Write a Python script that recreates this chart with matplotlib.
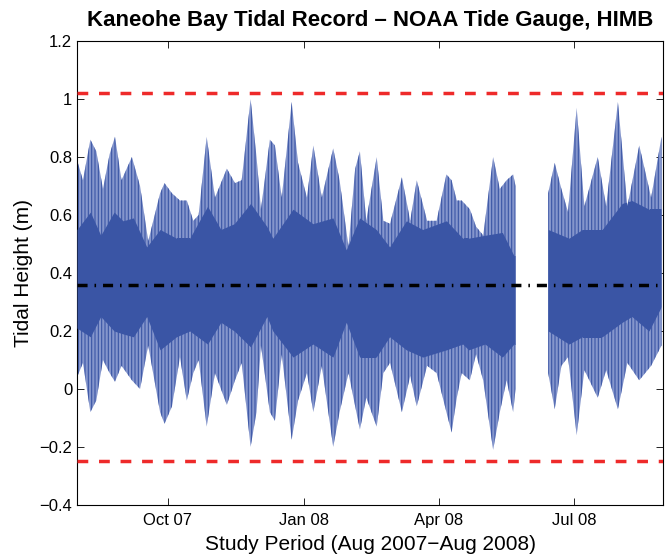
import numpy as np
import pandas as pd
import matplotlib
matplotlib.use('Agg')
import matplotlib.pyplot as plt
import matplotlib.dates as mdates

plt.rcParams['font.family'] = ['Liberation Sans', 'DejaVu Sans']
plt.rcParams['hatch.color'] = '#3a55a5'
plt.rcParams['hatch.linewidth'] = 0.8

# record start, sample offsets (days) and tidal envelope (m)
start = pd.Timestamp('2007-08-01')
day = [0, 4, 9, 13, 17.5, 22, 25.6, 30, 37, 42.5, 48, 56, 59, 64, 69.4, 74, 78.4, 82,
       87.4, 93, 101, 106.5, 111, 117, 121, 124, 130, 133.4, 138, 144.7, 149, 155,
       159.3, 165, 172.7, 177, 183, 187.5, 190.7, 195, 202, 206.5, 211, 219, 224.6,
       229, 236, 242.4, 249, 252.5, 256, 259.3, 264.8, 269, 273.8, 280.5, 285, 289.6,
       294, 295.6,
       317.6, 322, 326.5, 331, 336.8, 342, 351, 356.7, 364.6, 371, 379, 387, 394]
high = [0.79, 0.72, 0.86, 0.82, 0.69, 0.81, 0.87, 0.72, 0.80, 0.70, 0.51, 0.675, 0.71,
        0.675, 0.65, 0.65, 0.58, 0.60, 0.87, 0.66, 0.76, 0.71, 0.72, 1.00, 0.80, 0.62,
        0.86, 0.84, 0.66, 0.99, 0.78, 0.66, 0.84, 0.66, 0.83, 0.72, 0.49, 0.76, 0.82,
        0.58, 0.80, 0.58, 0.57, 0.73, 0.58, 0.72, 0.58, 0.58, 0.74, 0.72, 0.65, 0.65,
        0.62, 0.56, 0.53, 0.80, 0.69, 0.72, 0.74, 0.70,
        0.675, 0.78, 0.69, 0.61, 0.97, 0.63, 0.80, 0.63, 0.99, 0.63, 0.84, 0.66, 0.87]
low = [0.04, 0.09, -0.08, -0.04, 0.10, 0.055, 0.025, 0.08, 0.03, 0.00, 0.15, -0.08, -0.12,
       -0.06, 0.11, -0.04, 0.055, 0.10, -0.13, 0.055, -0.055, 0.03, 0.09, -0.20, -0.08, 0.15,
       -0.08, -0.11, 0.12, -0.175, -0.04, 0.055, -0.08, 0.08, -0.20, -0.08, 0.055, -0.06,
       -0.14, -0.03, -0.13, 0.055, 0.09, -0.08, 0.045, -0.06, 0.08, 0.055, -0.08, -0.15,
       -0.03, 0.055, 0.03, 0.12, 0.03, -0.21, -0.08, 0.03, -0.08, 0.0,
       0.055, -0.07, 0.08, 0.11, -0.16, 0.065, -0.03, 0.065, -0.07, 0.09, 0.03, 0.08, 0.15]

# dense core of the record (m)
core_day = [0, 9, 16, 25, 31, 38, 47, 56, 67, 76, 88, 97, 106, 117, 128, 132, 145.6,
            159, 172.5, 181.5, 190.5, 201.7, 210.7, 222, 233, 249, 260, 264, 275, 286.7,
            294.5, 295.6, 317.6, 331.6, 340.6, 354, 367.5, 374, 385.5, 394.5]
core_hi = [0.55, 0.61, 0.53, 0.61, 0.58, 0.59, 0.49, 0.55, 0.52, 0.52, 0.63, 0.55, 0.57,
           0.64, 0.56, 0.52, 0.62, 0.57, 0.59, 0.48, 0.59, 0.55, 0.49, 0.58, 0.55, 0.58,
           0.52, 0.52, 0.53, 0.54, 0.46, 0.46, 0.55, 0.52, 0.55, 0.55, 0.64, 0.65, 0.62, 0.62]
core_lo = [0.21, 0.18, 0.25, 0.20, 0.19, 0.18, 0.25, 0.135, 0.18, 0.20, 0.155, 0.23, 0.20,
           0.145, 0.25, 0.20, 0.11, 0.155, 0.11, 0.23, 0.11, 0.11, 0.18, 0.135, 0.11, 0.135,
           0.155, 0.135, 0.155, 0.11, 0.155, 0.155, 0.20, 0.155, 0.18, 0.18, 0.23, 0.25, 0.20, 0.29]

gap_start = 295.6   # last sample before the gauge outage
mean_level = 0.36
upper_lim = 1.02
lower_lim = -0.25

t = start + pd.to_timedelta(day, unit='D')
tc = start + pd.to_timedelta(core_day, unit='D')
t0, t1 = start, start + pd.Timedelta(days=395)

fig = plt.figure(figsize=(6.65, 5.58), dpi=100)
ax = fig.add_axes([0.1158, 0.095, 0.8812, 0.8315])

d = np.array(day)
cd = np.array(core_day)
for first in (True, False):
    seg = d <= gap_start if first else d > gap_start
    cm = cd <= gap_start if first else cd > gap_start
    env = ax.fill_between(t[seg], np.array(low)[seg], np.array(high)[seg],
                          facecolor='#8596cc', edgecolor='#3a55a5', lw=0,
                          hatch='|||||', zorder=2)
    core = ax.fill_between(tc[cm], np.array(core_lo)[cm], np.array(core_hi)[cm],
                           color='#3a55a5', lw=0, zorder=3)
    core.set_clip_path(env.get_paths()[0], env.get_transform())

ax.plot([t0, t1], [upper_lim, upper_lim], color='#ee2a2a', lw=2.5, ls=(0, (3.1, 3.1)), zorder=4)
ax.plot([t0, t1], [lower_lim, lower_lim], color='#ee2a2a', lw=2.5, ls=(0, (3.1, 3.1)), zorder=4)
ax.plot([t0, t1], [mean_level, mean_level], color='black', lw=2.5,
        ls=(0, (2.9, 2.0, 0.45, 2.0)), zorder=4)

ax.set_xlim(t0, t1)
ax.set_ylim(-0.4, 1.2)
ax.set_yticks(np.arange(-0.4, 1.21, 0.2))
ax.set_yticklabels(['\u22120.4', '\u22120.2', '0', '0.2', '0.4', '0.6', '0.8', '1', '1.2'])
ax.xaxis.set_major_locator(mdates.MonthLocator(bymonth=[1, 4, 7, 10]))
ax.xaxis.set_major_formatter(mdates.DateFormatter('%b %y'))
ax.tick_params(direction='in', top=True, right=True, labelsize=12, length=5, width=0.6)
ax.tick_params(axis='x', pad=6)
for s in ax.spines.values():
    s.set_linewidth(0.8)

ax.set_title('Kaneohe Bay Tidal Record \u2013 NOAA Tide Gauge, HIMB',
             fontsize=16, fontweight='bold', pad=11)
ax.set_xlabel('Study Period (Aug 2007\u2212Aug 2008)', fontsize=15, labelpad=5)
ax.set_ylabel('Tidal Height (m)', fontsize=15)
ax.yaxis.set_label_coords(-0.075, 0.5)

fig.savefig('out.png', dpi=100)
